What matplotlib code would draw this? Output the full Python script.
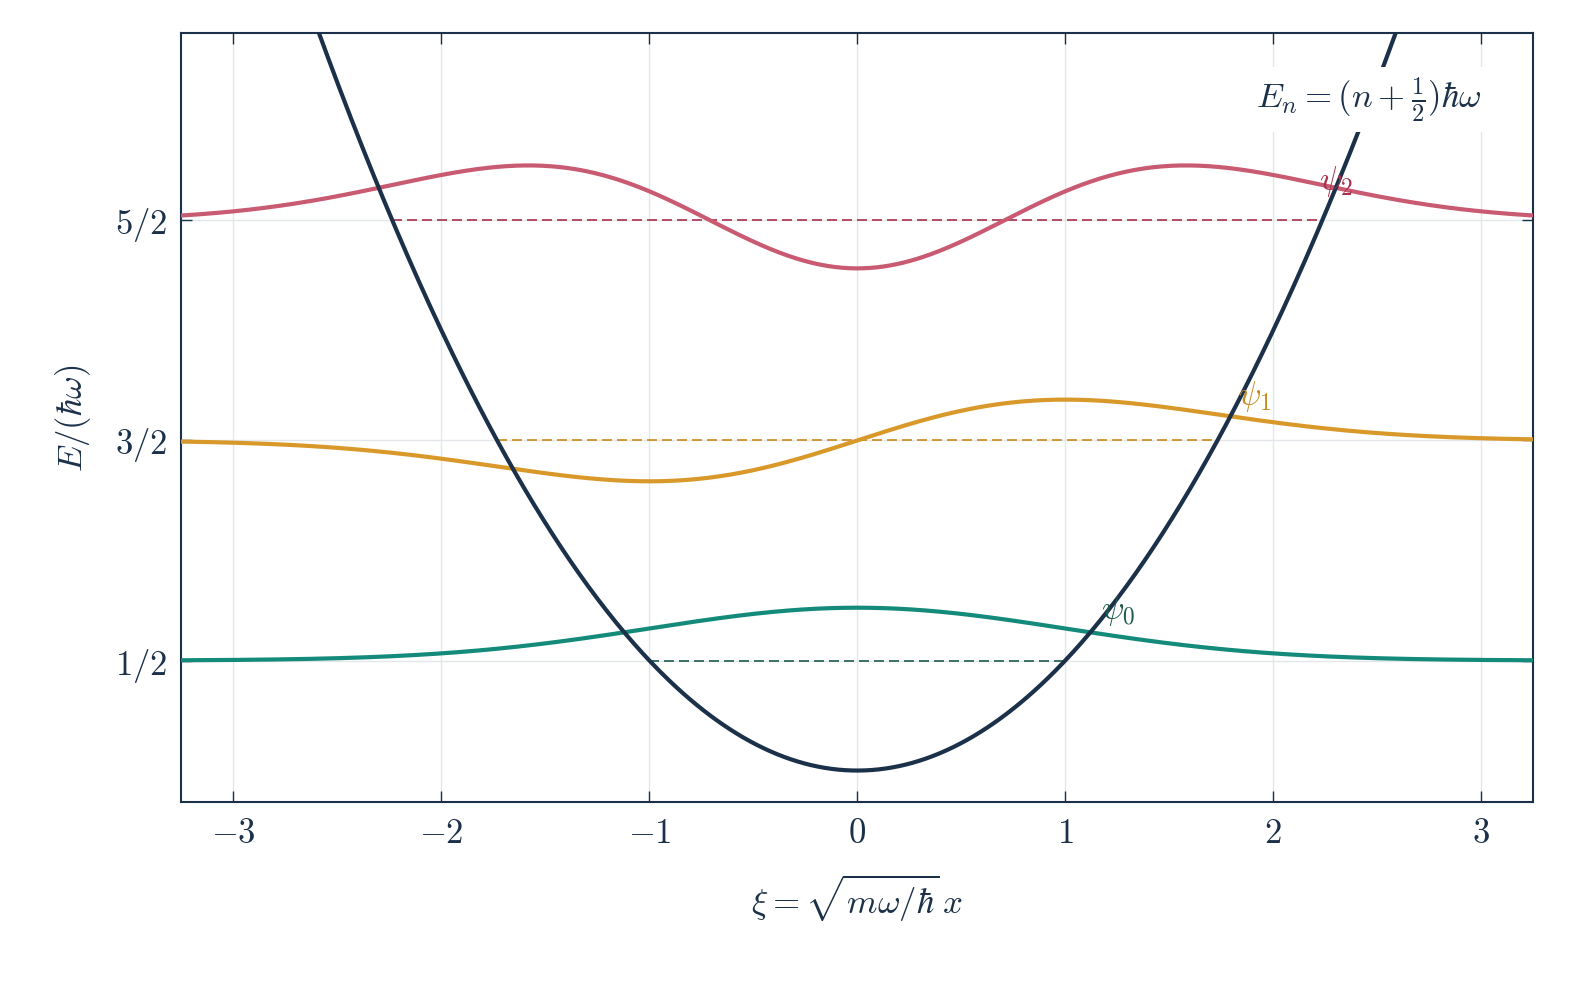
import numpy as np
import matplotlib
matplotlib.use("Agg")
import matplotlib.pyplot as plt

plt.rcParams['mathtext.fontset'] = 'cm'
plt.rcParams['font.family'] = 'serif'
plt.rcParams['font.serif'] = ['DejaVu Serif']

navy = '#1b3049'
energies = [0.5, 1.5, 2.5]
amplitudes = [0.24, 0.306, 0.218]   # wavefunction scale
colors = ['#148a7a', '#d9992a', '#c85a72']
dash_colors = ['#1f5a4e', '#c98a1e', '#a8304e']
labels = [r'$\psi_0$', r'$\psi_1$', r'$\psi_2$']
label_pos = [(1.17, 0.69), (1.83, 1.66), (2.22, 2.64)]
xticks = [-3, -2, -1, 0, 1, 2, 3]
yticks = [0.5, 1.5, 2.5]
ytick_labels = [r'$1/2$', r'$3/2$', r'$5/2$']

xi = np.linspace(-3.25, 3.25, 600)
shapes = [np.exp(-xi**2/2),
          xi*np.exp(-xi**2/2),
          (2*xi**2-1)*np.exp(-xi**2/2)]

fig = plt.figure(figsize=(15.92, 9.81), dpi=100)
ax = fig.add_axes([0.114, 0.182, 0.849, 0.784])
ax.grid(True, color='#e3e6ea', lw=1)
ax.set_axisbelow(True)

for E, a, s, c, dc, lab, lp in zip(energies, amplitudes, shapes, colors, dash_colors, labels, label_pos):
    t = np.sqrt(2*E)
    ax.plot([-t, t], [E, E], ls=(0, (6, 3)), color=dc, lw=1.2, zorder=2)
    ax.plot(xi, E + a*s, color=c, lw=3, zorder=3)
    ax.text(lp[0], lp[1], lab, color=dc, fontsize=24, zorder=5)

ax.plot(xi, xi**2/2, color=navy, lw=3, zorder=4)

ax.text(3.0, 3.05, r'$E_n = (n+\frac{1}{2})\hbar\omega$', fontsize=25, color=navy,
        ha='right', va='center', zorder=6,
        bbox=dict(facecolor='white', edgecolor='none', pad=6))

ax.set_xlim(-3.25, 3.25)
ax.set_ylim(-0.145, 3.35)
ax.set_xticks(xticks)
ax.set_xticklabels([r'$%d$' % v if v >= 0 else r'$-%d$' % -v for v in xticks])
ax.set_yticks(yticks)
ax.set_yticklabels(ytick_labels)
ax.tick_params(direction='in', top=True, right=True, labelsize=25, colors=navy,
               length=8, width=1, pad=10)
for sp in ax.spines.values():
    sp.set_color(navy)
    sp.set_linewidth(1.5)
ax.set_xlabel(r'$\xi = \sqrt{m\omega/\hbar}\,x$', fontsize=25, color=navy, labelpad=16)
ax.set_ylabel(r'$E/(\hbar\omega)$', fontsize=25, color=navy, labelpad=16)

fig.savefig('out.png', dpi=100)
